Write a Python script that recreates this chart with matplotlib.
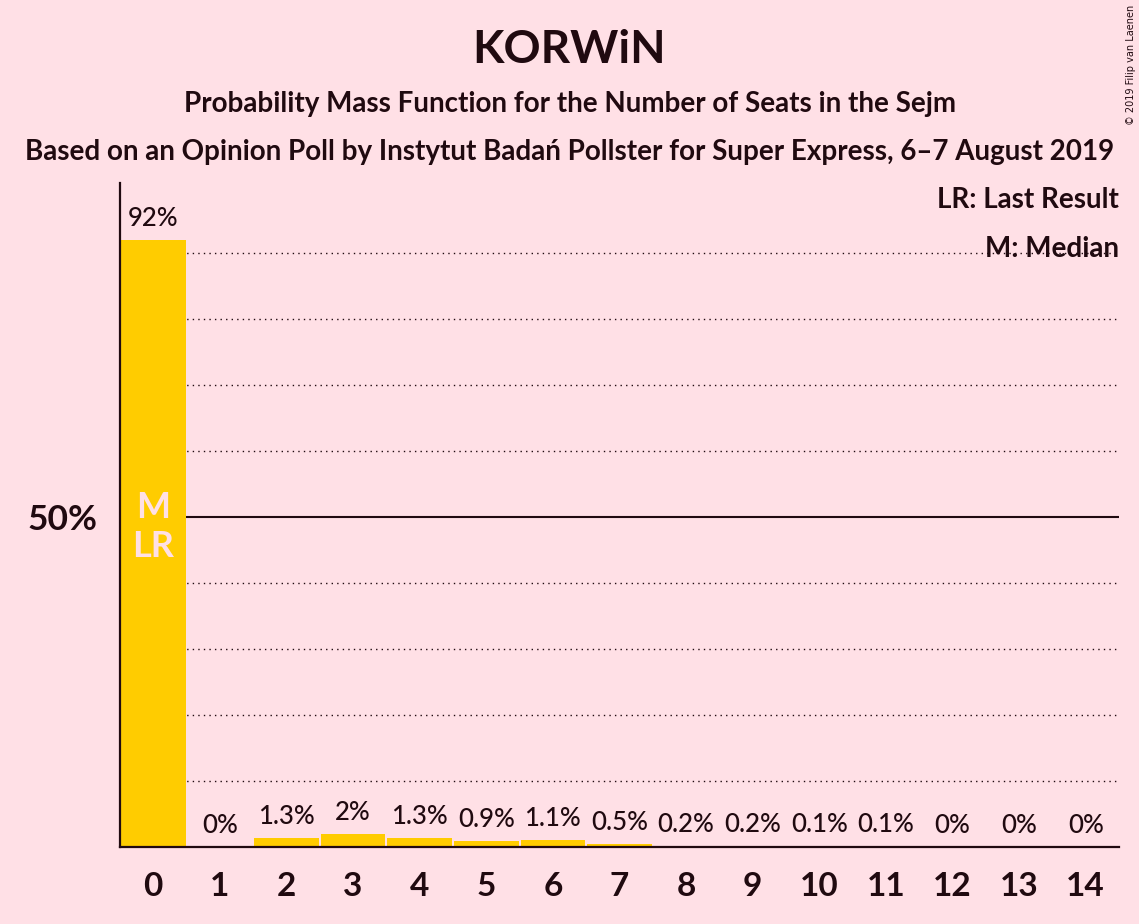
import matplotlib
matplotlib.use("Agg")
import matplotlib.pyplot as plt

# data
seats = list(range(15))
probabilities = [92, 0, 1.3, 2, 1.3, 0.9, 1.1, 0.5, 0.2, 0.2, 0.1, 0.1, 0, 0, 0]
value_labels = ["92%", "0%", "1.3%", "2%", "1.3%", "0.9%", "1.1%", "0.5%",
                "0.2%", "0.2%", "0.1%", "0.1%", "0%", "0%", "0%"]
median_seat = 0
last_result_seat = 0
grid_levels = [10, 20, 30, 40, 60, 70, 80, 90]

title = "KORWiN"
subtitle = "Probability Mass Function for the Number of Seats in the Sejm"
source = "Based on an Opinion Poll by Instytut Badań Pollster for Super Express, 6–7 August 2019"

BG = "#FFE0E6"
BAR = "#FFCC00"
INK = "#200A10"

plt.rcParams["font.family"] = ["Lato", "DejaVu Sans"]

fig = plt.figure(figsize=(11.39, 9.24), dpi=100, facecolor=BG)
ax = fig.add_axes([120 / 1139, 77 / 924, 999 / 1139, 664 / 924])
ax.set_facecolor(BG)

for level in grid_levels:
    ax.axhline(level, color=INK, linewidth=1.0, linestyle=(0, (1, 3)), zorder=1)
ax.axhline(50, color=INK, linewidth=1.5, zorder=1)

ax.bar(seats, probabilities, width=0.97, color=BAR, zorder=2)

for x, p, lab in zip(seats, probabilities, value_labels):
    ax.annotate(lab, (x, p), xytext=(0, 15.5), textcoords="offset points",
                ha="center", va="center", fontsize=18.5, color=INK,
                fontweight="medium", zorder=4)

ax.text(median_seat, 51.4, "M", ha="center", va="center", fontsize=26,
        color=BG, fontweight="bold", zorder=4)
ax.text(last_result_seat, 45.5, "LR", ha="center", va="center", fontsize=26,
        color=BG, fontweight="bold", zorder=4)

ax.text(14.5, 98, "LR: Last Result", ha="right", va="center", fontsize=20,
        color=INK, fontweight="bold", zorder=3)
ax.text(14.5, 90.6, "M: Median", ha="right", va="center", fontsize=20,
        color=INK, fontweight="bold", zorder=0.5)

ax.set_xlim(-0.5, 14.5)
ax.set_ylim(0, 100.6)
ax.set_xticks(seats)
ax.set_xticklabels([str(s) for s in seats], fontsize=24, fontweight="bold", color=INK)
ax.set_yticks([50])
ax.set_yticklabels(["50%"], fontsize=25.5, fontweight="bold", color=INK)
ax.tick_params(axis="both", length=0)
ax.tick_params(axis="x", pad=18)
ax.tick_params(axis="y", pad=16)

for side in ["top", "right"]:
    ax.spines[side].set_visible(False)
for side in ["left", "bottom"]:
    ax.spines[side].set_color(INK)
    ax.spines[side].set_linewidth(1.6)

fig.text(0.5, 1 - 50 / 924, title, ha="center", va="center", fontsize=33,
         fontweight="bold", color=INK)
fig.text(0.5, 1 - 104 / 924, subtitle, ha="center", va="center", fontsize=20,
         fontweight="bold", color=INK)
fig.text(0.5, 1 - 152 / 924, source, ha="center", va="center", fontsize=20,
         fontweight="bold", color=INK)
fig.text(1131 / 1139, 1 - 5 / 924, "© 2019 Filip van Laenen", ha="center", va="top",
         rotation=90, fontsize=7, color=INK, family="DejaVu Sans")

fig.savefig("out.png", dpi=100, facecolor=BG)
